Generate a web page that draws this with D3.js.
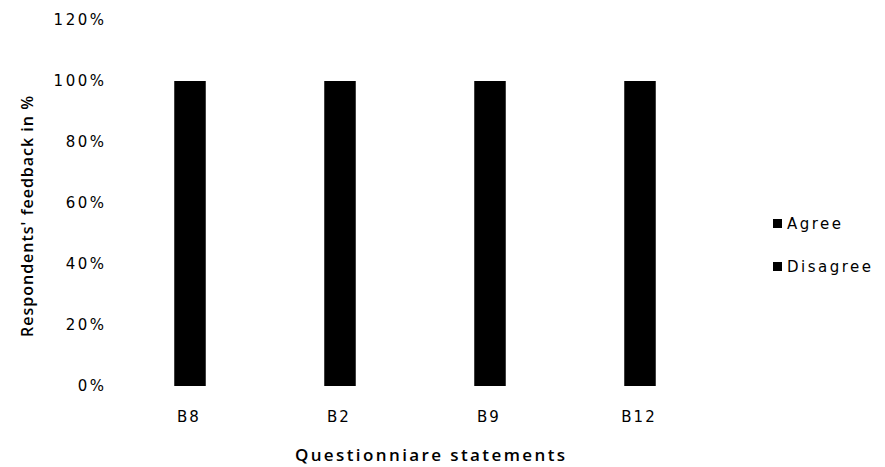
<!DOCTYPE html>
<html>
<head>
<meta charset="utf-8">
<script src="https://cdn.jsdelivr.net/npm/d3@7"></script>
<style>
  html, body { margin: 0; padding: 0; background: #fff; }
  svg { display: block; }
  text { font-family: "DejaVu Sans", "Open Sans", sans-serif; fill: #000; }
</style>
</head>
<body>
<svg id="chart" width="885" height="467"></svg>
<script>
// Questionnaire statements and respondents' feedback (%)
const categories = ["B8", "B2", "B9", "B12"];
const agree = [100, 100, 100, 100];
const disagree = [0, 0, 0, 0];
const seriesNames = ["Agree", "Disagree"];
const seriesColors = ["#000000", "#000000"];
const yTicks = [0, 20, 40, 60, 80, 100, 120];

const svg = d3.select("#chart");
const margin = { left: 115, right: 170, top: 20, bottom: 81 };
const W = 885, H = 467;
const LS = 2.5; // letter spacing of the regular labels
const labelFont = "\"DejaVu Sans\", sans-serif";

const rows = categories.map((c, i) => ({ cat: c, Agree: agree[i], Disagree: disagree[i] }));
const stacked = d3.stack().keys(seriesNames)(rows);

const x = d3.scaleBand()
  .domain(categories)
  .range([margin.left, W - margin.right])
  .paddingInner(0.79)
  .paddingOuter(0.395);

const y = d3.scaleLinear()
  .domain([0, 120])
  .range([H - margin.bottom, margin.top]);

// Stacked bars
svg.append("g").selectAll("g")
  .data(stacked)
  .join("g")
  .attr("fill", (d, i) => seriesColors[i])
  .selectAll("rect")
  .data(d => d)
  .join("rect")
  .attr("x", d => x(d.data.cat))
  .attr("y", d => y(d[1]))
  .attr("width", x.bandwidth())
  .attr("height", d => y(d[0]) - y(d[1]));

// Y axis (labels only)
const yAxis = d3.axisLeft(y)
  .tickValues(yTicks)
  .tickFormat(d => d + "%")
  .tickSize(0)
  .tickPadding(11);
const gy = svg.append("g")
  .attr("transform", `translate(${margin.left},0)`)
  .call(yAxis);
gy.select(".domain").remove();
gy.selectAll("text")
  .style("font-size", "15px")
  .style("font-family", labelFont)
  .style("letter-spacing", LS + "px")
  .attr("dx", LS)
  .attr("fill", "#000");

// X axis (labels only)
const xAxis = d3.axisBottom(x).tickSize(0).tickPadding(25);
const gx = svg.append("g")
  .attr("transform", `translate(0,${H - margin.bottom})`)
  .call(xAxis);
gx.select(".domain").remove();
gx.selectAll("text")
  .style("font-size", "15px")
  .style("font-family", labelFont)
  .style("letter-spacing", "2px")
  .attr("dx", 1 - 2)
  .attr("fill", "#000");

// Axis titles
svg.append("text")
  .attr("x", 430)
  .attr("y", 461)
  .attr("text-anchor", "middle")
  .attr("dx", 1.2)
  .style("font-family", "\"Open Sans\", sans-serif")
  .style("font-size", "17px")
  .style("font-weight", "600")
  .style("letter-spacing", "2.4px")
  .text("Questionniare statements");

svg.append("text")
  .attr("transform", `translate(33,${(margin.top + H - margin.bottom) / 2 + 13}) rotate(-90)`)
  .attr("text-anchor", "middle")
  .style("font-family", "\"Open Sans\", sans-serif")
  .style("font-size", "16px")
  .style("font-weight", "600")
  .style("letter-spacing", "1px")
  .text("Respondents' feedback in %");

// Legend
const legend = svg.append("g").attr("transform", "translate(773,219)");
seriesNames.forEach((name, i) => {
  const g = legend.append("g").attr("transform", `translate(0,${i * 43})`);
  g.append("rect").attr("width", 9).attr("height", 9).attr("fill", seriesColors[i]);
  g.append("text")
    .attr("x", 14).attr("y", 10)
    .style("font-size", "15px")
    .style("font-family", labelFont)
    .style("letter-spacing", LS + "px")
    .text(name);
});
</script>
</body>
</html>
